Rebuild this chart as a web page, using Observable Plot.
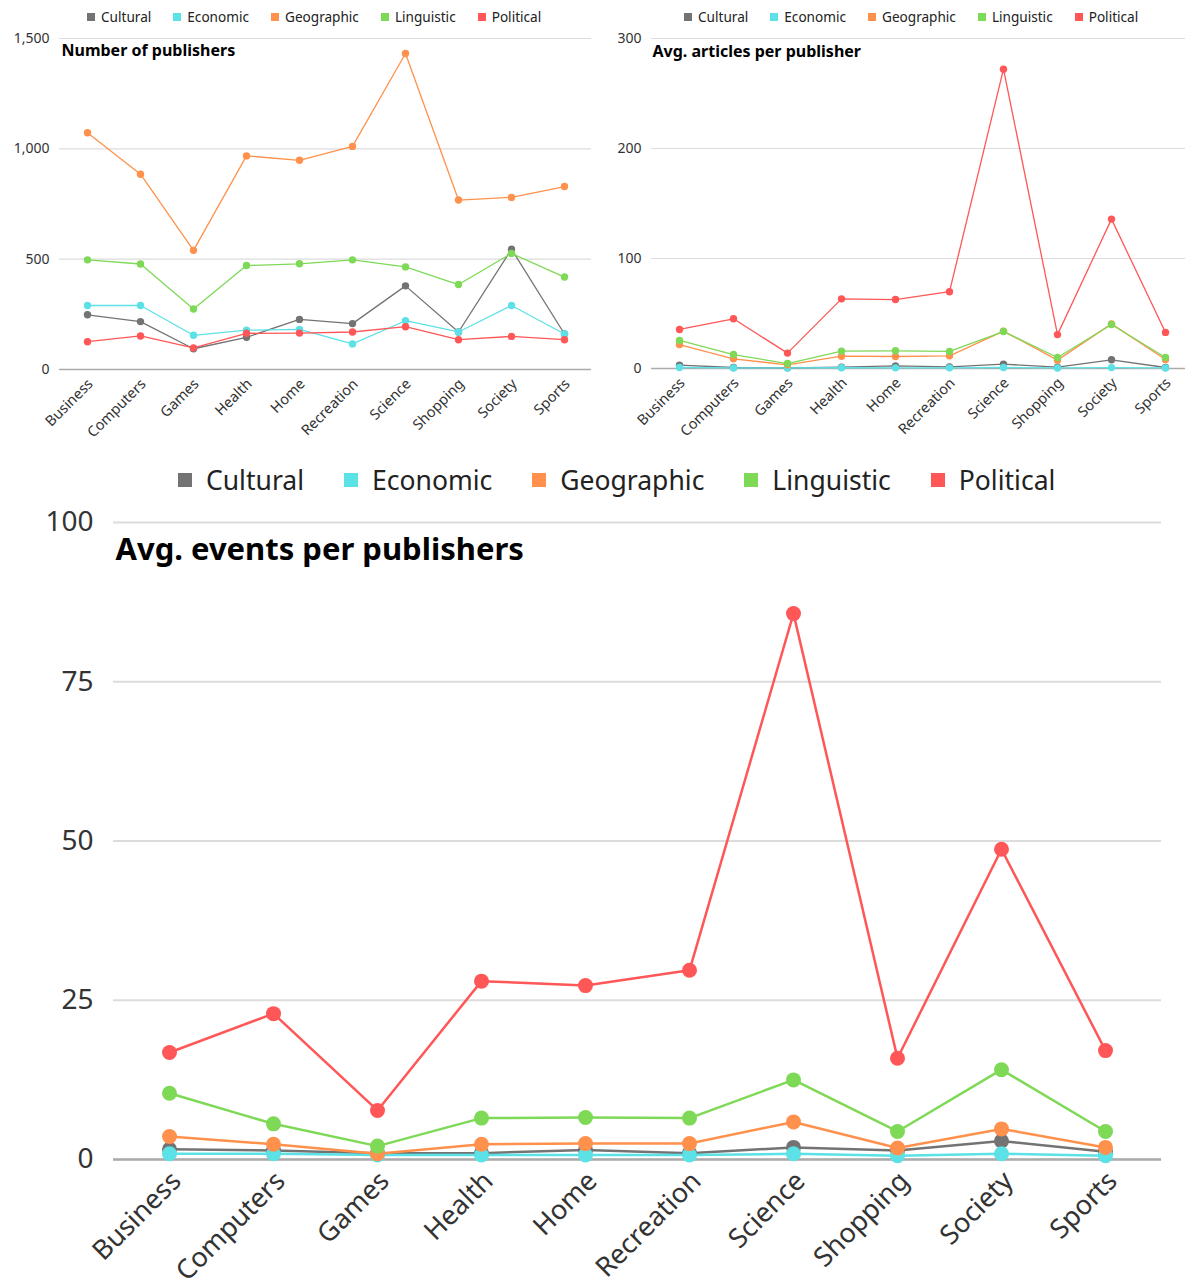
<!DOCTYPE html>
<html>
<head>
<meta charset="utf-8">
<script src="https://cdn.jsdelivr.net/npm/d3@7"></script>
<script src="https://cdn.jsdelivr.net/npm/@observablehq/plot@0.6"></script>
<style>
  html, body { margin: 0; padding: 0; background: #fff; overflow: hidden; }
  #root { position: relative; width: 1185px; height: 1288px; overflow: hidden; background: #fff; }
  .chart { position: absolute; }
  .chart svg { max-width: none !important; display: block; }
  .legend { position: absolute; display: flex; align-items: center; font-family: "Noto Sans", sans-serif; color: #222; white-space: nowrap; }
  .legend .item { display: flex; align-items: center; }
  .legend .sw { display: inline-block; }
</style>
</head>
<body>
<div id="root"></div>
<script>
const categories = ["Business","Computers","Games","Health","Home","Recreation","Science","Shopping","Society","Sports"];
const groups = ["Cultural","Economic","Geographic","Linguistic","Political"];
const colors = ["#737373","#5ce1e6","#ff914d","#7ed957","#ff5757"];

// Number of publishers
const publishersCultural   = [248, 217, 94, 146, 227, 208, 379, 170, 545, 161];
const publishersEconomic   = [290, 290, 155, 178, 182, 116, 221, 170, 290, 161];
const publishersGeographic = [1073, 885, 540, 968, 948, 1011, 1432, 768, 780, 829];
const publishersLinguistic = [497, 478, 274, 471, 479, 497, 465, 385, 526, 419];
const publishersPolitical  = [126, 152, 98, 164, 165, 170, 194, 135, 150, 135];

// Avg. articles per publisher
const articlesCultural   = [3.0, 0.9, 0.6, 1.2, 2.4, 1.5, 3.9, 1.2, 7.9, 0.9];
const articlesEconomic   = [0.9, 0.5, 0.5, 0.7, 0.6, 0.6, 0.9, 0.5, 0.8, 0.5];
const articlesGeographic = [21.8, 8.8, 3.3, 11.2, 10.9, 11.5, 34.0, 7.6, 40.6, 8.2];
const articlesLinguistic = [25.5, 12.7, 4.5, 15.8, 16.1, 15.5, 33.6, 10.0, 40.0, 10.0];
const articlesPolitical  = [35.5, 45.2, 14.0, 63.3, 62.7, 69.8, 272.1, 30.8, 135.8, 32.8];

// Avg. events per publishers
const eventsCultural   = [1.6, 1.4, 1.0, 1.0, 1.5, 1.0, 1.9, 1.4, 2.9, 1.2];
const eventsEconomic   = [0.9, 0.9, 0.7, 0.7, 0.7, 0.7, 0.9, 0.6, 0.9, 0.6];
const eventsGeographic = [3.6, 2.4, 0.9, 2.4, 2.5, 2.5, 5.9, 1.8, 4.8, 1.9];
const eventsLinguistic = [10.4, 5.6, 2.1, 6.5, 6.6, 6.5, 12.5, 4.4, 14.1, 4.4];
const eventsPolitical  = [16.8, 22.9, 7.7, 28.0, 27.3, 29.7, 85.7, 15.9, 48.7, 17.1];

const publishersTicks = [0, 500, 1000, 1500];
const articlesTicks = [0, 100, 200, 300];
const eventsTicks = [0, 25, 50, 75, 100];

function toRows(seriesList) {
  const rows = [];
  seriesList.forEach((vals, gi) => {
    vals.forEach((v, ci) => rows.push({cat: categories[ci], g: groups[gi], v}));
  });
  return rows;
}

const root = document.getElementById("root");

function legend(opts) {
  const div = document.createElement("div");
  div.className = "legend";
  div.style.left = opts.left + "px";
  div.style.top = opts.top + "px";
  div.style.fontSize = opts.fontSize + "px";
  div.style.gap = opts.gap + "px";
  groups.forEach((g, i) => {
    const it = document.createElement("div");
    it.className = "item";
    const sw = document.createElement("span");
    sw.className = "sw";
    sw.style.width = opts.sw + "px";
    sw.style.height = opts.sw + "px";
    sw.style.background = colors[i];
    sw.style.marginRight = opts.swGap + "px";
    const t = document.createElement("span");
    t.textContent = g;
    it.appendChild(sw); it.appendChild(t);
    div.appendChild(it);
  });
  root.appendChild(div);
}

function chart(o) {
  const rows = toRows(o.series);
  const p = Plot.plot({
    width: o.width, height: o.height,
    marginLeft: o.ml, marginRight: o.mr, marginTop: o.mt, marginBottom: o.mb,
    style: {fontFamily: "Noto Sans, sans-serif", fontSize: o.fs + "px", color: "#333", background: "transparent", overflow: "visible"},
    x: {type: "point", domain: categories, padding: 0.5, label: null},
    y: {domain: o.domain, label: null},
    color: {domain: groups, range: colors},
    marks: [
      Plot.gridY(o.ticks, {stroke: "#dcdcdc", strokeOpacity: 1, strokeWidth: o.gw}),
      Plot.ruleY([0], {stroke: "#ababab", strokeWidth: o.gw + 0.4}),
      Plot.axisY(o.ticks, {tickSize: 0, tickPadding: o.ytp, label: null, fill: "#333", fontSize: o.yfs}),
      Plot.axisX({tickSize: 0, tickRotate: -45, tickPadding: o.xtp, dx: o.xdx, dy: o.xdy, label: null, fill: "#333", fontSize: o.xfs}),
      Plot.line(rows, {x: "cat", y: "v", z: "g", stroke: "g", strokeWidth: o.sw}),
      Plot.dot(rows, {x: "cat", y: "v", fill: "g", r: o.r}),
      Plot.text([o.title], {frameAnchor: "top-left", lineAnchor: "top", dx: o.tdx, dy: o.tdy, fontWeight: "bold", fontFamily: "Noto Sans, sans-serif", fontSize: o.tfs, fill: "#000"})
    ]
  });
  const wrap = document.createElement("div");
  wrap.className = "chart";
  wrap.style.left = o.left + "px";
  wrap.style.top = o.top + "px";
  wrap.style.width = o.width + "px";
  wrap.style.height = o.height + "px";
  wrap.appendChild(p);
  root.appendChild(wrap);
}

// Top-left
chart({
  series: [publishersCultural, publishersEconomic, publishersGeographic, publishersLinguistic, publishersPolitical],
  domain: [0, 1500], ticks: publishersTicks, title: "Number of publishers",
  left: 0, top: 30, width: 595, height: 410, ml: 59, mr: 4, mt: 8, mb: 71,
  fs: 14, yfs: 14, xfs: 14.5, ytp: 10, xtp: 8, xdx: 3, xdy: 4, gw: 1.2, sw: 1.3, r: 3.7, tfs: 16, tdx: 2, tdy: 6
});
// Top-right
chart({
  series: [articlesCultural, articlesEconomic, articlesGeographic, articlesLinguistic, articlesPolitical],
  domain: [0, 300], ticks: articlesTicks, title: "Avg. articles per publisher",
  left: 595, top: 30, width: 600, height: 410, ml: 56, mr: 2, mt: 8, mb: 72,
  fs: 14, yfs: 14, xfs: 14.5, ytp: 10, xtp: 8, xdx: 3, xdy: 4, gw: 1.2, sw: 1.3, r: 3.7, tfs: 16, tdx: 1, tdy: 7
});
// Bottom
chart({
  series: [eventsCultural, eventsEconomic, eventsGeographic, eventsLinguistic, eventsPolitical],
  domain: [0, 100], ticks: eventsTicks, title: "Avg. events per publishers",
  left: 0, top: 505, width: 1185, height: 783, ml: 113, mr: 24, mt: 17, mb: 129,
  fs: 27, yfs: 28, xfs: 27, ytp: 20, xtp: 14, xdx: 7, xdy: 3, gw: 2, sw: 2.5, r: 7.5, tfs: 31, tdx: 2, tdy: 15
});

legend({left: 87, top: 7, fontSize: 13.6, gap: 22, sw: 8, swGap: 6});
legend({left: 684, top: 7, fontSize: 13.6, gap: 22, sw: 8, swGap: 6});
legend({left: 178, top: 462, fontSize: 26.5, gap: 40, sw: 14, swGap: 14});
</script>
</body>
</html>
